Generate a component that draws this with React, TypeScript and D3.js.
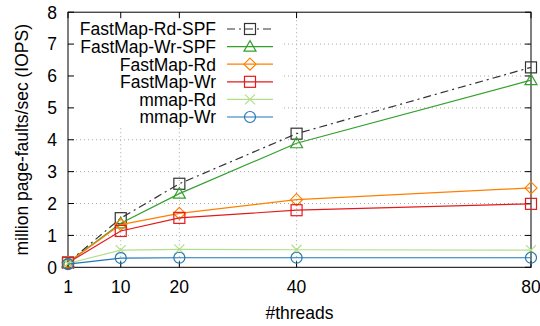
import React from 'react';
import * as d3 from 'd3';

const threads = [1, 10, 20, 40, 80];
const yTicks = [0, 1, 2, 3, 4, 5, 6, 7, 8];
const seriesNames = ['FastMap-Rd-SPF', 'FastMap-Wr-SPF', 'FastMap-Rd', 'FastMap-Wr', 'mmap-Rd', 'mmap-Wr'];
const rdSpf = [0.15, 1.54, 2.62, 4.19, 6.27];
const wrSpf = [0.15, 1.38, 2.31, 3.89, 5.87];
const fmRd = [0.15, 1.34, 1.69, 2.12, 2.49];
const fmWr = [0.14, 1.14, 1.55, 1.79, 1.99];
const mmRd = [0.12, 0.54, 0.56, 0.55, 0.54];
const mmWr = [0.1, 0.29, 0.3, 0.3, 0.3];

const seriesValues = [rdSpf, wrSpf, fmRd, fmWr, mmRd, mmWr];
const colors = ['#333333', '#33a02c', '#ff7f00', '#e31a1c', '#b2df8a', '#1f78b4'];
const markers = ['square', 'triangle', 'diamond', 'square', 'cross', 'circle'];
const dashes = ['8,4,2,4', null, null, null, null, null];

const W = 540, H = 326;
const L = 68, R = 531, T = 12.2, B = 267.3;
const FONT = 'Liberation Sans, Arial, Helvetica, sans-serif';
const FS = 17.5;

function Marker({ type, x, y, color }: { type: string; x: number; y: number; color: string }) {
  const s = 5.5;
  const common = { fill: 'none', stroke: color, strokeWidth: 1.2 };
  if (type === 'square') return <rect x={x - s} y={y - s} width={2 * s} height={2 * s} {...common} />;
  if (type === 'circle') return <circle cx={x} cy={y} r={s} {...common} />;
  if (type === 'triangle')
    return <path d={`M${x},${y - 6} L${x + 6},${y + 4.5} L${x - 6},${y + 4.5} Z`} {...common} />;
  if (type === 'diamond')
    return <path d={`M${x},${y - 6} L${x + 6},${y} L${x},${y + 6} L${x - 6},${y} Z`} {...common} />;
  if (type === 'cross')
    return <path d={`M${x - 5},${y - 5} L${x + 5},${y + 5} M${x - 5},${y + 5} L${x + 5},${y - 5}`} {...common} />;
  return null;
}

export default function App() {
  const x = d3.scaleLinear().domain([1, 80]).range([L, R]);
  const y = d3.scaleLinear().domain([0, 8]).range([B, T]);
  const line = d3
    .line<number>()
    .x((_, i) => x(threads[i]))
    .y((d) => y(d));

  const legX = 216;
  const legLine0 = 227, legLine1 = 273;
  const legY0 = 29, legDy = 17.6;
  const tick = 6;

  return (
    <svg width={W} height={H} style={{ position: 'absolute', left: 0, top: 0, background: '#fff' }} fontFamily={FONT}>
      <rect x={0} y={0} width={W} height={H} fill="#fff" />
      {/* grid */}
      {yTicks.slice(1, -1).map((t) => (
        <line key={'gy' + t} x1={L} x2={R} y1={y(t)} y2={y(t)} stroke="#aaa" strokeWidth={1} strokeDasharray="1,3" />
      ))}
      {threads.slice(1, -1).map((t) => (
        <line key={'gx' + t} x1={x(t)} x2={x(t)} y1={T} y2={B} stroke="#aaa" strokeWidth={1} strokeDasharray="1,3" />
      ))}
      {/* opaque key background */}
      <rect x={L + 0.5} y={T + 0.5} width={283 - L} height={126 - T} fill="#fff" />
      {/* border */}
      <rect x={L} y={T} width={R - L} height={B - T} fill="none" stroke="#000" strokeWidth={1} />
      {/* ticks */}
      {yTicks.map((t) => (
        <g key={'ty' + t}>
          <line x1={L} x2={L + tick} y1={y(t)} y2={y(t)} stroke="#000" />
          <line x1={R} x2={R - tick} y1={y(t)} y2={y(t)} stroke="#000" />
          <text x={57} y={y(t)} dy="0.36em" textAnchor="end" fontSize={FS} fill="#000">
            {t}
          </text>
        </g>
      ))}
      {threads.map((t) => (
        <g key={'tx' + t}>
          <line x1={x(t)} x2={x(t)} y1={B} y2={B - tick} stroke="#000" />
          <line x1={x(t)} x2={x(t)} y1={T} y2={T + tick} stroke="#000" />
          <text x={x(t)} y={292.5} textAnchor="middle" fontSize={FS} fill="#000">
            {t}
          </text>
        </g>
      ))}
      <text x={(L + R) / 2} y={319} textAnchor="middle" fontSize={FS} fill="#000">
        #threads
      </text>
      <text
        transform={`translate(27.5,${(T + B) / 2}) rotate(-90)`}
        textAnchor="middle"
        fontSize={FS}
        fill="#000"
      >
        million page-faults/sec (IOPS)
      </text>
      {/* series */}
      {seriesValues.map((vals, si) => (
        <g key={'s' + si}>
          <path
            d={line(vals) || ''}
            fill="none"
            stroke={colors[si]}
            strokeWidth={1.2}
            strokeDasharray={dashes[si] || undefined}
          />
          {vals.map((v, i) => (
            <Marker key={i} type={markers[si]} x={x(threads[i])} y={y(v)} color={colors[si]} />
          ))}
        </g>
      ))}
      {/* legend */}
      {seriesNames.map((n, si) => {
        const ly = legY0 + si * legDy;
        return (
          <g key={'l' + si}>
            <text x={legX} y={ly} dy="0.36em" textAnchor="end" fontSize={FS} fill="#000">
              {n}
            </text>
            <line
              x1={legLine0}
              x2={legLine1}
              y1={ly}
              y2={ly}
              stroke={colors[si]}
              strokeWidth={1.2}
              strokeDasharray={dashes[si] || undefined}
            />
            <Marker type={markers[si]} x={(legLine0 + legLine1) / 2} y={ly} color={colors[si]} />
          </g>
        );
      })}
    </svg>
  );
}
